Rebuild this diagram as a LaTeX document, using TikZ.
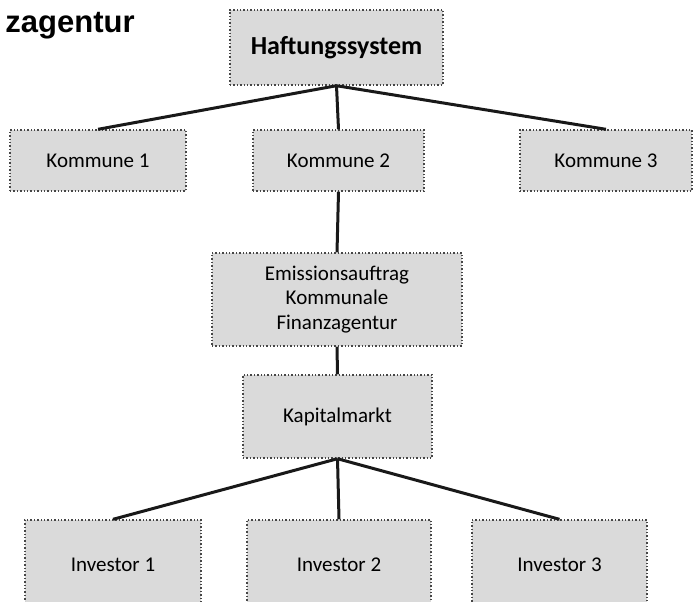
\documentclass[tikz,border=0pt]{standalone}
\usepackage{fontspec}
\setmainfont{Carlito}
\newfontfamily\arialfont{Liberation Sans}
\usepackage{xcolor}
\definecolor{boxgray}{RGB}{218, 218, 218}
\definecolor{rimgray}{RGB}{70, 70, 70}

\begin{document}
\begin{tikzpicture}[x=0.5pt, y=-0.5pt,
    box/.style={draw=rimgray, densely dotted, line width=0.7pt, fill=boxgray,
      align=center, inner sep=0pt, font=\fontsize{10.5}{12.2}\selectfont},
    verb/.style={line width=1.5pt, black!90}]
  \clip (0,0) rectangle (694,601);

  % Titelrest oben links
  \node[anchor=base west, inner sep=0pt, font=\arialfont\bfseries\fontsize{15.5}{18}\selectfont]
    (titel) at (5,32) {zagentur};

  % Haftungssystem und Kommunen
  \node[box, minimum width=106.5pt, minimum height=37.5pt, font=\bfseries\fontsize{13}{15}\selectfont]
    (haft) at (336.5,47.5) {Haftungssystem};
  \node[box, minimum width=88pt, minimum height=30.5pt] (kom1) at (98,160.5) {Kommune 1};
  \node[box, minimum width=85.5pt, minimum height=30.5pt] (kom2) at (338.5,160.5) {Kommune 2};
  \node[box, minimum width=86pt, minimum height=30.5pt] (kom3) at (606,160.5) {Kommune 3};

  % Emission und Markt
  \node[box, minimum width=125pt, minimum height=46.5pt] (emis) at (337,299.5)
    {Emissionsauftrag\\Kommunale\\Finanzagentur};
  \node[box, minimum width=94.5pt, minimum height=41.5pt] (kap) at (337.5,416.5) {Kapitalmarkt};

  % Investoren (unten angeschnitten)
  \node[box, minimum width=88pt, minimum height=45pt] (inv1) at (113,565) {Investor 1};
  \node[box, minimum width=92pt, minimum height=45pt] (inv2) at (339,565) {Investor 2};
  \node[box, minimum width=87.5pt, minimum height=45pt] (inv3) at (559.5,565) {Investor 3};

  % Verbindungen
  \draw[verb] (haft.south) -- (kom1.north);
  \draw[verb] (haft.south) -- (kom2.north);
  \draw[verb] (haft.south) -- (kom3.north);
  \draw[verb] (kom2.south) -- (emis.north);
  \draw[verb] (emis.south) -- (kap.north);
  \draw[verb] (kap.south) -- (inv1.north);
  \draw[verb] (kap.south) -- (inv2.north);
  \draw[verb] (kap.south) -- (inv3.north);
\end{tikzpicture}
\end{document}
